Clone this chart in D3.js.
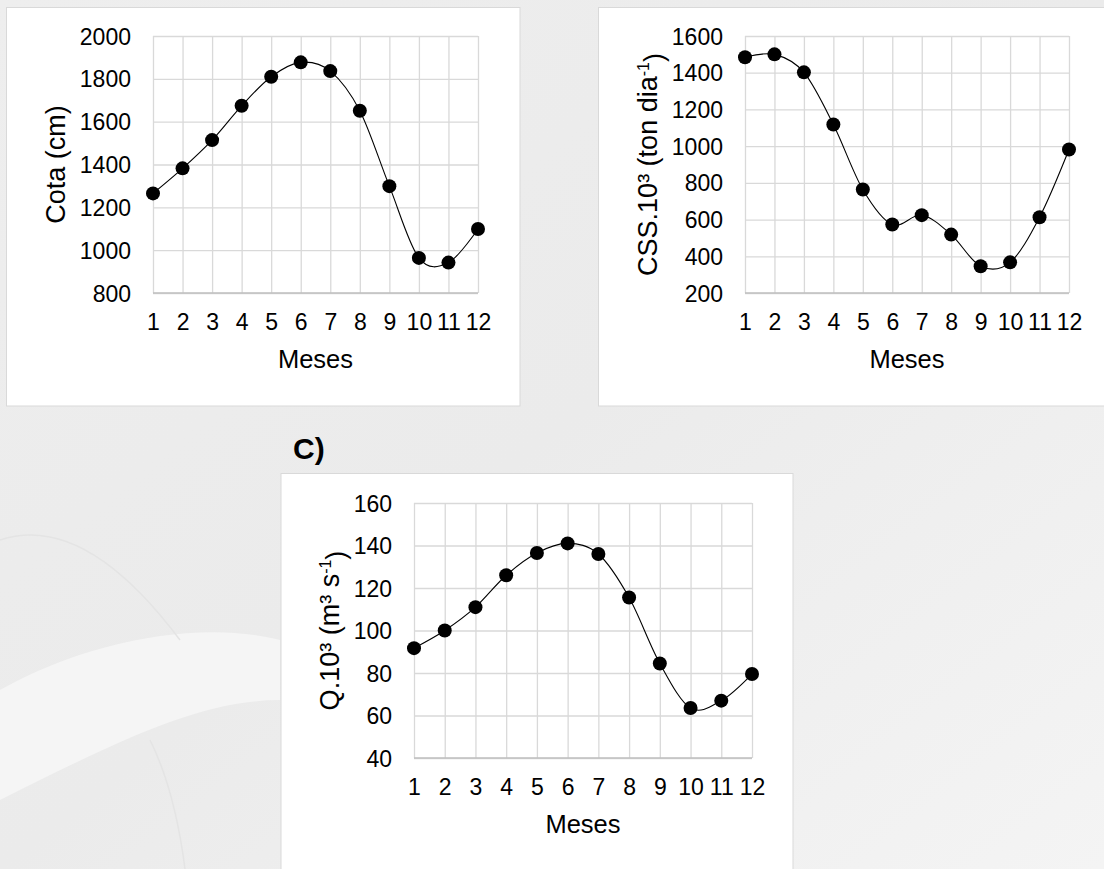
<!DOCTYPE html>
<html>
<head>
<meta charset="utf-8">
<script src="https://cdn.jsdelivr.net/npm/d3@7"></script>
<style>
  html, body { margin: 0; padding: 0; background: #f0f0f0; }
  svg { display: block; }
  text { font-family: "Liberation Sans", Arial, sans-serif; fill: #000; }
</style>
</head>
<body>
<svg id="chart" width="1104" height="869"></svg>
<script>
// ---- data ----
const months = [1, 2, 3, 4, 5, 6, 7, 8, 9, 10, 11, 12];
const cotaValues = [1265, 1382, 1514, 1674, 1810, 1877, 1836, 1651, 1299, 964, 942, 1099];
const cssValues = [1484, 1500, 1402, 1118, 764, 573, 624, 518, 346, 367, 613, 982];
const qValues = [91.7, 100, 111, 126, 136.5, 141, 136, 115.5, 84.5, 63.5, 67, 79.5];
const cotaTicks = [800, 1000, 1200, 1400, 1600, 1800, 2000];
const cssTicks = [200, 400, 600, 800, 1000, 1200, 1400, 1600];
const qTicks = [40, 60, 80, 100, 120, 140, 160];
const xTitle = "Meses";

const svg = d3.select("#chart");

// ---- faint background ----
const defs = svg.append("defs");
const bg = defs.append("linearGradient").attr("id", "bgGrad")
  .attr("x1", "0").attr("y1", "0").attr("x2", "1").attr("y2", "1");
bg.append("stop").attr("offset", "0").attr("stop-color", "#eeeeee");
bg.append("stop").attr("offset", "0.5").attr("stop-color", "#ebebeb");
bg.append("stop").attr("offset", "1").attr("stop-color", "#f4f4f4");
svg.append("rect").attr("width", 1104).attr("height", 869).attr("fill", "url(#bgGrad)");
// soft watermark shapes
svg.append("path")
  .attr("d", "M0,690 C90,640 200,620 280,640 L280,700 C200,700 120,740 0,800 Z")
  .attr("fill", "#f5f5f5");
svg.append("path")
  .attr("d", "M0,540 C60,520 120,560 180,640")
  .attr("fill", "none").attr("stroke", "#e4e4e4").attr("stroke-width", 1.5);
svg.append("path")
  .attr("d", "M150,740 C170,780 180,830 185,869")
  .attr("fill", "none").attr("stroke", "#e4e4e4").attr("stroke-width", 1.5);

// ---- panels ----
const panels = [
  { box: [6.5, 7.5, 513.5, 398.5], plot: [153, 36, 478, 293], values: cotaValues, ticks: cotaTicks,
    title: [{ t: "Cota (cm)" }] },
  { box: [598.5, 7.5, 520, 398.5], plot: [745, 36, 1069, 293], values: cssValues, ticks: cssTicks,
    title: [{ t: "CSS.10³ (ton dia" }, { t: "-1", sup: true }, { t: ")" }] },
  { box: [281, 473.5, 512, 420], plot: [414, 503, 752, 758], values: qValues, ticks: qTicks,
    title: [{ t: "Q.10³ (m³ s" }, { t: "-1", sup: true }, { t: ")" }] }
];

panels.forEach(p => {
  const [x0, y0, x1, y1] = p.plot;
  svg.append("rect")
    .attr("x", p.box[0]).attr("y", p.box[1])
    .attr("width", p.box[2]).attr("height", p.box[3])
    .attr("fill", "#ffffff").attr("stroke", "#d9d9d9").attr("stroke-width", 1);

  const x = d3.scaleLinear().domain([1, 12]).range([x0, x1]);
  const y = d3.scaleLinear().domain([p.ticks[0], p.ticks[p.ticks.length - 1]]).range([y1, y0]);
  const g = svg.append("g");

  // horizontal gridlines + y labels
  const ya = d3.axisLeft(y).tickValues(p.ticks).tickSize(-(x1 - x0)).tickPadding(22).tickFormat(d3.format("d"));
  const yg = g.append("g").attr("transform", `translate(${x0},0)`).call(ya);
  yg.select(".domain").remove();
  yg.selectAll("line").attr("stroke", "#d9d9d9").attr("stroke-width", 1.3);
  yg.selectAll("text").style("font-size", "23px").style("font-family", "Liberation Sans, Arial, sans-serif")
    .attr("dy", "0.35em").attr("fill", "#000");

  // vertical gridlines + x labels
  const xa = d3.axisBottom(x).tickValues(months).tickSize(-(y1 - y0)).tickPadding(20).tickFormat(d3.format("d"));
  const xg = g.append("g").attr("transform", `translate(0,${y1})`).call(xa);
  xg.select(".domain").remove();
  xg.selectAll("line").attr("stroke", "#d9d9d9").attr("stroke-width", 1.3);
  xg.selectAll("text").style("font-size", "23px").style("font-family", "Liberation Sans, Arial, sans-serif")
    .attr("y", 29).attr("dy", "0.35em").attr("fill", "#000");

  // bottom axis line
  g.append("line").attr("x1", x0).attr("x2", x1).attr("y1", y1).attr("y2", y1)
    .attr("stroke", "#bfbfbf").attr("stroke-width", 1.3);

  // x title
  g.append("text").attr("x", (x0 + x1) / 2).attr("y", y1 + 66)
    .attr("text-anchor", "middle").attr("dy", "0.35em")
    .style("font-size", "25.5px").text(xTitle);

  // y title
  const labelLeft = x0 - 22 - (p.ticks[p.ticks.length - 1] >= 1000 ? 51 : 38);
  const tx = labelLeft - 24;
  const ty = (y0 + y1) / 2;
  const tt = g.append("text").attr("transform", `translate(${tx},${ty}) rotate(-90)`)
    .attr("text-anchor", "middle").attr("dy", "0.35em").style("font-size", "27px");
  p.title.forEach(s => {
    if (s.sup) {
      tt.append("tspan").attr("dy", "-0.5em").style("font-size", "16px").text(s.t);
    } else {
      const ts = tt.append("tspan").text(s.t);
      if (s.t === ")") ts.attr("dy", "0.5em");
    }
  });

  // smoothed line
  const line = d3.line().x((d, i) => x(months[i])).y(d => y(d)).curve(d3.curveCatmullRom.alpha(0));
  g.append("path").datum(p.values).attr("d", line)
    .attr("fill", "none").attr("stroke", "#000").attr("stroke-width", 1.1);

  // markers
  g.selectAll("circle.pt").data(p.values).enter().append("circle")
    .attr("class", "pt")
    .attr("cx", (d, i) => x(months[i])).attr("cy", d => y(d)).attr("r", 7)
    .attr("fill", "#000");
});

// panel label
svg.append("text").attr("x", 293).attr("y", 459)
  .style("font-size", "30px").style("font-weight", "bold").text("C)");
</script>
</body>
</html>
